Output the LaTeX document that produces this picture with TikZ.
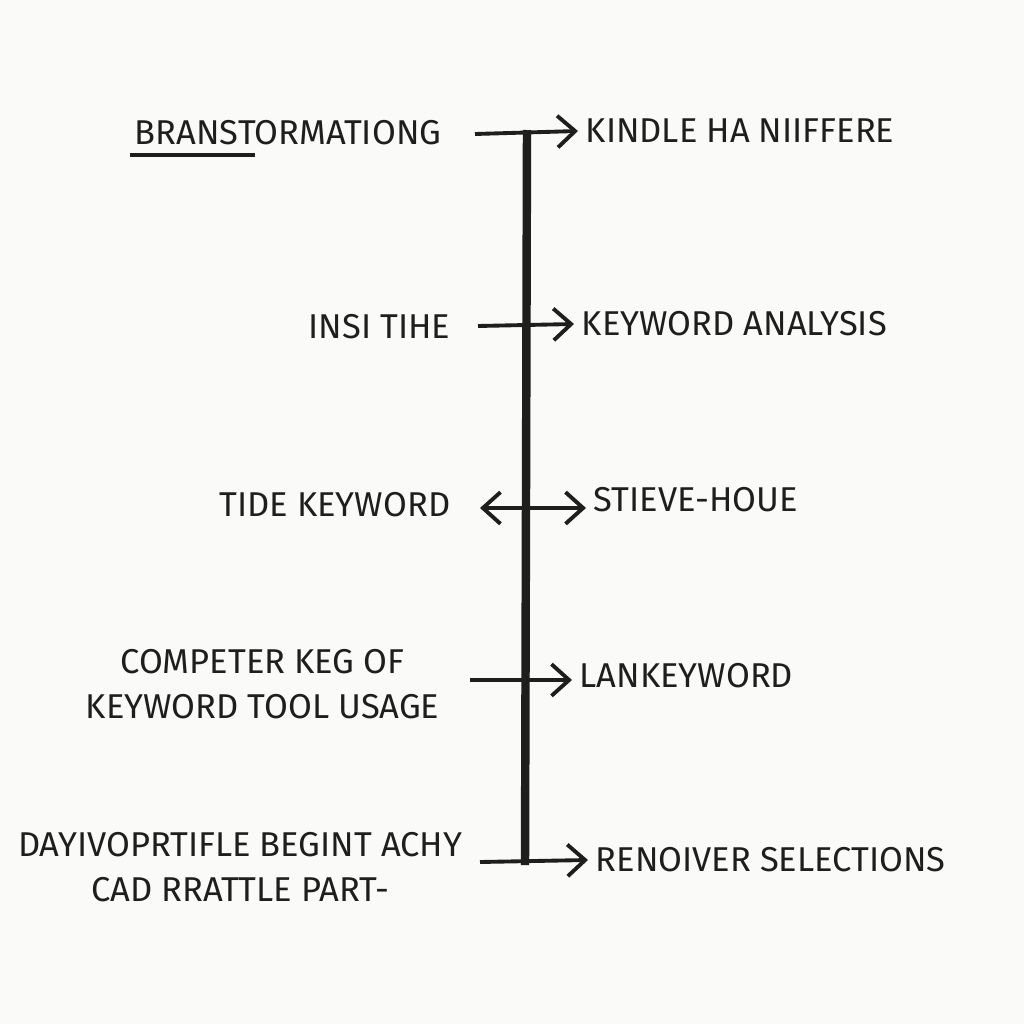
\documentclass[tikz,border=0pt]{standalone}
\usepackage{fontspec}
\setmainfont{Fira Sans}
\usetikzlibrary{arrows.meta}
\definecolor{tinta}{HTML}{1E1E1E}
\definecolor{papel}{HTML}{FAFAF8}

\begin{document}
\begin{tikzpicture}[x=0.01cm, y=-0.01cm,
  etiq/.style={text=tinta, font=\fontsize{9.8}{13}\selectfont, inner sep=2pt, align=center},
  flecha/.style={-{Straight Barb[length=5pt, width=9pt, line width=1.1pt]}, line width=1.1pt, tinta},
  doble/.style={{Straight Barb[length=5pt, width=9pt, line width=1.1pt]}-{Straight Barb[length=5pt, width=9pt, line width=1.1pt]}, line width=1.1pt, tinta},
]
\fill[papel] (0,0) rectangle (1024,1024);
\useasboundingbox (0,0) rectangle (1024,1024);

\coordinate (arriba) at (527,130);
\coordinate (abajo) at (525,865);
\draw[line width=2.4pt, tinta] (arriba) -- (abajo);

\node[etiq, anchor=east] (brans) at (449,133) {BRANSTORMATIONG};
\draw[line width=1.1pt, tinta] (130,155) -- (255,155);
\coordinate (o1) at (475,134);
\node[etiq, anchor=west] (kindle) at (578,131) {KINDLE HA NIIFFERE};
\draw[flecha] (o1) -- (kindle.west);

\node[etiq, anchor=east] (insi) at (458,327) {INSI TIHE};
\coordinate (o2) at (478,326);
\node[etiq, anchor=west] (analisis) at (574,324) {KEYWORD ANALYSIS};
\draw[flecha] (o2) -- (analisis.west);

\node[etiq, anchor=east] (tide) at (458,505) {TIDE KEYWORD};
\coordinate (o3) at (480,508);
\node[etiq, anchor=west] (stieve) at (586,500) {STIEVE-HOUE};
\draw[doble] (o3) -- (stieve.west |- o3) ;

\node[etiq, anchor=east] (competer) at (447,684) {COMPETER KEG OF\\KEYWORD TOOL USAGE};
\coordinate (o4) at (470,680);
\node[etiq, anchor=west] (lan) at (572,676) {LANKEYWORD};
\draw[flecha] (o4) -- (lan.west |- o4);

\node[etiq, anchor=east] (dayi) at (470,867) {DAYIVOPRTIFLE BEGINT ACHY\\CAD RRATTLE PART-};
\coordinate (o5) at (480,862);
\node[etiq, anchor=west] (renoiver) at (588,860) {RENOIVER SELECTIONS};
\draw[flecha] (o5) -- (renoiver.west);
\end{tikzpicture}
\end{document}
